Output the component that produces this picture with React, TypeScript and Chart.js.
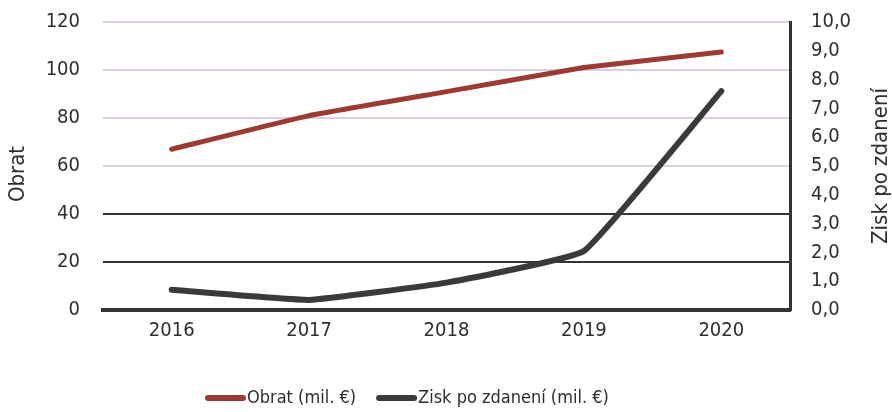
import React, { useEffect, useRef } from "react";
import { Chart, registerables } from "chart.js";

Chart.register(...registerables);

const years = ["2016", "2017", "2018", "2019", "2020"];
const obrat = [67, 81, 91, 101, 107.5];
const zisk = [0.7, 0.35, 0.95, 2.05, 7.6];
const leftTicks = [0, 20, 40, 60, 80, 100, 120];
const rightMax = 10;
const leftTitle = "Obrat";
const rightTitle = "Zisk po zdanení";
const seriesNames = ["Obrat (mil. €)", "Zisk po zdanení (mil. €)"];

const FONT = "'DejaVu Sans Condensed', 'DejaVu Sans', sans-serif";
const TXT = "#2e2e2e";

function gridColorFor(v: number): string {
  if (v >= 80) return "#dccfe4";
  if (v === 60) return "#d6d6d6";
  return "#333333";
}

const titlesPlugin = {
  id: "axisTitlesAndLegend",
  afterDraw(chart: any) {
    const ctx = chart.ctx;
    const a = chart.chartArea;
    ctx.save();
    ctx.fillStyle = TXT;
    ctx.font = "22px " + FONT;
    ctx.textAlign = "center";
    ctx.textBaseline = "middle";
    ctx.save();
    ctx.translate(18, (a.top + a.bottom) / 2 + 8);
    ctx.rotate(-Math.PI / 2);
    ctx.fillText(leftTitle, 0, 0);
    ctx.restore();
    ctx.save();
    ctx.translate(881, (a.top + a.bottom) / 2);
    ctx.rotate(-Math.PI / 2);
    ctx.fillText(rightTitle, 0, 0);
    ctx.restore();

    // legend
    ctx.font = "18px " + FONT;
    ctx.textAlign = "left";
    let x = 205;
    const y = 398;
    chart.data.datasets.forEach((ds: any) => {
      ctx.strokeStyle = ds.borderColor;
      ctx.lineWidth = 6;
      ctx.lineCap = "round";
      ctx.beginPath();
      ctx.moveTo(x + 3, y);
      ctx.lineTo(x + 38, y);
      ctx.stroke();
      x += 42;
      ctx.fillStyle = TXT;
      ctx.fillText(ds.label, x, y);
      x += ctx.measureText(ds.label).width + 20;
    });
    ctx.restore();
  },
};

export default function App() {
  const ref = useRef<HTMLCanvasElement | null>(null);
  useEffect(() => {
    document.body.style.margin = "0";
    const ctx = ref.current!.getContext("2d")!;
    const chart = new Chart(ctx, {
      type: "line",
      data: {
        labels: years,
        datasets: [
          {
            label: seriesNames[0],
            data: obrat,
            borderColor: "#9c3b34",
            backgroundColor: "#9c3b34",
            borderWidth: 5,
            pointRadius: 0,
            tension: 0.1,
            yAxisID: "y",
            borderCapStyle: "round",
          },
          {
            label: seriesNames[1],
            data: zisk,
            borderColor: "#3a3a3a",
            backgroundColor: "#3a3a3a",
            borderWidth: 6,
            pointRadius: 0,
            tension: 0.1,
            yAxisID: "y1",
            borderCapStyle: "round",
          },
        ],
      },
      plugins: [titlesPlugin],
      options: {
        animation: false,
        responsive: false,
        layout: { padding: { left: 0, right: 0, top: 22, bottom: 62 } },
        plugins: {
          tooltip: { enabled: false },
          legend: { display: false },
        },
        scales: {
          x: {
            offset: true,
            grid: { display: false, drawTicks: false },
            border: { display: true, color: "#333333", width: 4 },
            ticks: { font: { family: FONT, size: 20 }, color: TXT, padding: 9 },
            afterFit: (s: any) => {
              s.height = 40;
              s.paddingLeft = 0;
              s.paddingRight = 0;
            },
          },
          y: {
            position: "left",
            min: 0,
            max: 120,
            afterBuildTicks: (axis: any) => {
              axis.ticks = leftTicks.map((v) => ({ value: v }));
            },
            grid: {
              color: (c: any) => gridColorFor(c.tick ? c.tick.value : 0),
              lineWidth: (c: any) => (c.tick && c.tick.value === 0 ? 0 : 2),
              drawTicks: false,
            },
            border: { display: false },
            ticks: { font: { family: FONT, size: 20 }, color: TXT, padding: 23 },
            afterFit: (s: any) => {
              s.width = 103;
              s.paddingTop = 0;
              s.paddingBottom = 0;
            },
          },
          y1: {
            position: "right",
            min: 0,
            max: rightMax,
            ticks: {
              stepSize: 1,
              font: { family: FONT, size: 20 },
              color: TXT,
              padding: 21,
              callback: (v: any) => Number(v).toFixed(1).replace(".", ","),
            },
            grid: { drawOnChartArea: false, drawTicks: false },
            border: { display: true, color: "#333333", width: 3 },
            afterFit: (s: any) => {
              s.width = 102;
              s.paddingTop = 0;
              s.paddingBottom = 0;
            },
          },
        },
      },
    });
    return () => chart.destroy();
  }, []);
  return (
    <div style={{ width: 892, height: 412, background: "#fff" }}>
      <canvas ref={ref} width={892} height={412} />
    </div>
  );
}
